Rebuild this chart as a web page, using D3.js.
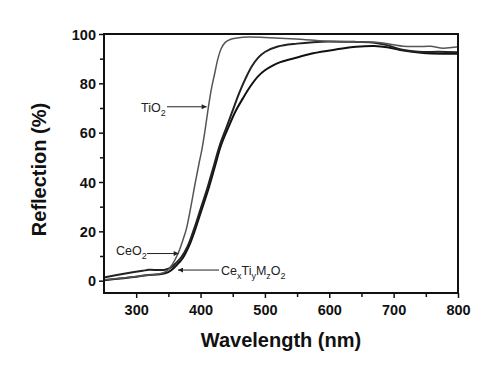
<!DOCTYPE html>
<html><head><meta charset="utf-8">
<script src="https://cdn.jsdelivr.net/npm/d3@7/dist/d3.min.js"></script>
<style>
html,body{margin:0;padding:0;background:#fff;}
svg{display:block;}
</style></head>
<body>
<svg id="chart" width="500" height="383"></svg>
<script>
// ---- data ----
const xTicks = [300, 400, 500, 600, 700, 800];
const xMinor = [350, 450, 550, 650, 750];
const yTicks = [0, 20, 40, 60, 80, 100];
const yMinor = [10, 30, 50, 70, 90];

const tio2Nm = [250,280,300,320,337,348,356,365,372,378,385,392,398,402,407,412,417,422,427,432,438,446,466,500,524,560,601,650,680,700,715,740,757,777,790,800];
const tio2R  = [0.4,1.1,1.7,2.3,2.8,4.0,6.5,11,16,21,30,40,48,53,61,70,78,84,90,94,96.5,97.8,98.7,98.6,98.3,97.8,97.0,96.8,96.5,95.6,95.0,94.9,95.0,94.2,94.5,94.8];

const ceo2Nm = [250,270,290,310,320,335,345,355,362,370,380,390,400,410,420,430,440,450,460,470,480,490,500,520,550,575,600,642,670,690,710,730,746,770,800];
const ceo2R  = [1.3,2.3,3.2,4.0,4.4,4.3,4.4,5.5,7.2,9.5,14,21,29,37,46,55,62,69,76,82,87,90.5,92.7,94.9,96.1,96.7,97,96.8,96.5,95.5,93.8,93,92.7,92.8,92.6];

const mixNm = [250,280,300,316,337,350,360,366,372,382,392,402,412,422,432,443,454,466,478,490,500,512,524,550,575,610,642,670,690,710,746,780,800];
const mixR  = [0.2,1.0,1.6,2.2,2.6,3.5,5.5,7.2,9,14,21,29,37,46,55,62,68.5,74,79,83,85.3,87.2,88.6,90.5,92.2,93.7,94.8,95.1,94.6,93.5,92.3,92.0,92.0];

const xLabel = "Wavelength (nm)";
const yLabel = "Reflection (%)";

// ---- layout ----
const L = 104, R = 458, T = 34, B = 293;
const x = d3.scaleLinear().domain([250, 800]).range([L, R]);
const y = d3.scaleLinear().domain([-5, 100]).range([B, T]);

const svg = d3.select("#chart");
const font = "'Liberation Sans', Arial, Helvetica, sans-serif";

// curves
const line = d3.line().x(d => x(d[0])).y(d => y(d[1])).curve(d3.curveCatmullRom.alpha(0.5));
const series = [
  {nm: mixNm, r: mixR, color: "#111", w: 2.0},
  {nm: ceo2Nm, r: ceo2R, color: "#222", w: 2.0},
  {nm: tio2Nm, r: tio2R, color: "#555", w: 1.5}
];
series.forEach(s => {
  svg.append("path")
    .datum(s.nm.map((v, i) => [v, s.r[i]]))
    .attr("fill", "none")
    .attr("stroke", s.color)
    .attr("stroke-width", s.w)
    .attr("stroke-linejoin", "round")
    .attr("d", line);
});

// axes
const xAxis = d3.axisBottom(x).tickValues(xTicks).tickSize(5).tickPadding(4).tickFormat(d3.format("d"));
const gx = svg.append("g").attr("transform", `translate(0,${B})`).call(xAxis);
const xAxisMinor = d3.axisBottom(x).tickValues(xMinor).tickSize(4).tickFormat("");
const gxm = svg.append("g").attr("transform", `translate(0,${B})`).call(xAxisMinor);

const yAxis = d3.axisLeft(y).tickValues(yTicks).tickSize(5).tickPadding(3).tickFormat(d3.format("d"));
const gy = svg.append("g").attr("transform", `translate(${L},0)`).call(yAxis);
const yAxisMinor = d3.axisLeft(y).tickValues(yMinor).tickSize(4).tickFormat("");
const gym = svg.append("g").attr("transform", `translate(${L},0)`).call(yAxisMinor);

[gx, gxm, gy, gym].forEach(g => {
  g.select(".domain").remove();
  g.selectAll(".tick line").attr("stroke", "#111").attr("stroke-width", 1.5);
  g.selectAll(".tick text")
    .attr("fill", "#111")
    .style("font-family", font)
    .style("font-weight", "bold")
    .style("font-size", "14.5px");
});
gxm.selectAll(".tick text").remove();
gym.selectAll(".tick text").remove();
gx.selectAll(".tick text").attr("dy", "0.9em");
gy.selectAll(".tick text").attr("dy", "0.35em");

// frame
svg.append("rect")
  .attr("x", L).attr("y", T).attr("width", R - L).attr("height", B - T)
  .attr("fill", "none").attr("stroke", "#111").attr("stroke-width", 2);

// axis titles
svg.append("text")
  .attr("x", (L + R) / 2).attr("y", 347)
  .attr("text-anchor", "middle")
  .style("font-family", font).style("font-weight", "bold").style("font-size", "20px")
  .attr("fill", "#111")
  .text(xLabel);
svg.append("text")
  .attr("transform", `translate(46,${(T + B) / 2 + 6}) rotate(-90)`)
  .attr("text-anchor", "middle")
  .style("font-family", font).style("font-weight", "bold").style("font-size", "20px")
  .attr("fill", "#111")
  .text(yLabel);

// annotations
const defs = svg.append("defs");
defs.append("marker").attr("id", "arr").attr("viewBox", "0 0 10 10")
  .attr("refX", 10).attr("refY", 5).attr("markerWidth", 7).attr("markerHeight", 5)
  .attr("markerUnits", "userSpaceOnUse").attr("orient", "auto")
  .append("path").attr("d", "M0,0 L10,5 L0,10 z").attr("fill", "#222");

function label(px, py, parts) {
  const t = svg.append("text").attr("x", px).attr("y", py)
    .style("font-family", font).style("font-size", "12.5px").attr("fill", "#222");
  let shifted = false;
  parts.forEach(p => {
    const ts = t.append("tspan").text(p.t);
    if (p.sub) {
      ts.attr("dy", shifted ? 0 : 4).style("font-size", "9px");
      shifted = true;
    } else {
      ts.attr("dy", shifted ? -4 : 0);
      shifted = false;
    }
  });
}
function arrow(x1, y1, x2, y2) {
  svg.append("line").attr("x1", x1).attr("y1", y1).attr("x2", x2).attr("y2", y2)
    .attr("stroke", "#222").attr("stroke-width", 1).attr("marker-end", "url(#arr)");
}

// TiO2
label(141, 112, [{t: "TiO"}, {t: "2", sub: true}]);
arrow(167, y(70.5), x(409.5), y(70.5));
// CeO2
label(116, 255, [{t: "CeO"}, {t: "2", sub: true}]);
arrow(147, y(11), x(366), y(11));
// CexTiyMzO2
label(221, 275, [{t: "Ce"}, {t: "x", sub: true}, {t: "Ti"}, {t: "y", sub: true}, {t: "M"}, {t: "z", sub: true}, {t: "O"}, {t: "2", sub: true}]);
arrow(219, y(4.3), x(365), y(4.3));
</script>
</body></html>
